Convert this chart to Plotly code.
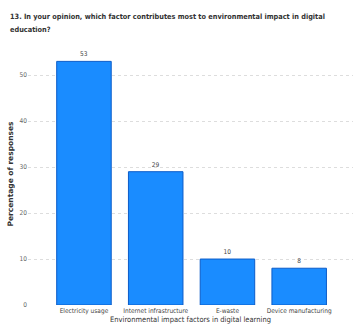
import plotly.graph_objects as go

categories = ["Electricity usage", "Internet infrastructure", "E-waste", "Device manufacturing"]
values = [53, 29, 10, 8]
y_ticks = [0, 10, 20, 30, 40, 50]

title_lines = ["13. In your opinion, which factor contributes most to environmental impact in digital",
               "education?"]
x_title = "Environmental impact factors in digital learning"
y_title = "Percentage of responses"

narrow = "DejaVu Sans Condensed, Liberation Sans Narrow, sans-serif"

W, H = 353, 330
ML, MR, MT, MB = 28, 0, 43, 25
plot_h = H - MT - MB
plot_w = W - ML - MR

fig = go.Figure(go.Bar(
    x=categories, y=values,
    text=[str(v) for v in values], textposition="outside",
    textfont=dict(family=narrow, size=6.5, color="#444"),
    marker=dict(color="#1a8cff", line=dict(color="#0b5cc9", width=1)),
    cliponaxis=False,
))

# title as two left-aligned lines
for i, (line, ypix) in enumerate(zip(title_lines, [16, 30])):
    fig.add_annotation(
        text="<b>" + line + "</b>", showarrow=False,
        xref="paper", yref="paper",
        x=(8 - ML) / plot_w, xanchor="left",
        y=(H - MB - ypix) / plot_h, yanchor="middle",
        font=dict(family=narrow, size=7.3, color="#333"),
    )

fig.update_layout(
    width=W, height=H,
    margin=dict(l=ML, r=MR, t=MT, b=MB),
    paper_bgcolor="white", plot_bgcolor="white",
    bargap=0.24,
    showlegend=False,
    xaxis=dict(range=[-0.78, 3.75], showgrid=False, showline=False, zeroline=False,
               ticks="", tickfont=dict(family=narrow, size=6.5, color="#444"),
               title=dict(text=x_title, font=dict(family=narrow, size=7.5, color="#333"), standoff=3)),
    yaxis=dict(range=[0, 57], tickvals=y_ticks, showgrid=True, gridcolor="#dddddd", griddash="dot",
               gridwidth=1, zeroline=False, showline=False, ticks="",
               tickfont=dict(family=narrow, size=6.5, color="#666"),
               title=dict(text="<b>" + y_title + "</b>", font=dict(family="DejaVu Sans, sans-serif", size=7.5, color="#333"), standoff=4)),
)

fig.write_html("out.html")
